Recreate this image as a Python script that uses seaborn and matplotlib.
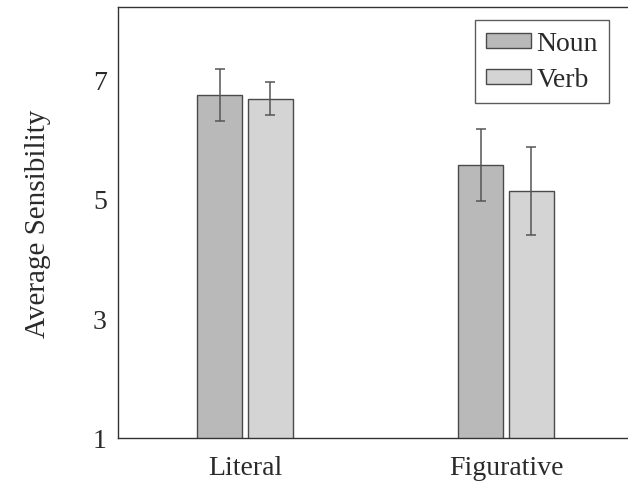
import matplotlib
matplotlib.use("Agg")
import matplotlib.pyplot as plt
import seaborn as sns
import pandas as pd
from matplotlib.patches import Patch

categories = ["Literal", "Figurative"]
series = ["Noun", "Verb"]
noun_vals = [6.74, 5.57]
verb_vals = [6.67, 5.13]
noun_err_low = [6.31, 4.97]
noun_err_high = [7.18, 6.17]
verb_err_low = [6.41, 4.40]
verb_err_high = [6.96, 5.87]
yticks = [1, 3, 5, 7]

sns.set_theme(style="white")
plt.rcParams["font.family"] = ["Liberation Serif", "DejaVu Serif"]

df = pd.DataFrame({
    "Condition": categories * 2,
    "POS": ["Noun"] * 2 + ["Verb"] * 2,
    "Value": noun_vals + verb_vals,
})

colors = {"Noun": "#b9b9b9", "Verb": "#d4d4d4"}
edge = "#4a4a4a"
txt = "#2a2a2a"
fs = 20

fig = plt.figure(figsize=(6.28, 4.89), dpi=100)
ax = fig.add_axes([118 / 628, 1 - 439 / 489, 515 / 628, 431 / 489])

sns.barplot(data=df, x="Condition", y="Value", hue="POS", order=categories,
            hue_order=series, palette=colors, width=0.39, gap=0.1,
            errorbar=None, edgecolor=edge, linewidth=1.0, ax=ax, legend=False)

lows = {"Noun": noun_err_low, "Verb": verb_err_low}
highs = {"Noun": noun_err_high, "Verb": verb_err_high}
vals = {"Noun": noun_vals, "Verb": verb_vals}
for cont, s in zip(ax.containers, series):
    for i, bar in enumerate(cont):
        xc = bar.get_x() + bar.get_width() / 2
        v = vals[s][i]
        ax.errorbar(xc, v, yerr=[[v - lows[s][i]], [highs[s][i] - v]],
                    fmt="none", ecolor="#555555", elinewidth=1.1, capsize=3.6,
                    capthick=1.1)

ax.set_xlim(-0.4866, 1.4866)
ax.set_ylim(1, 8.21)
ax.set_yticks(yticks)
ax.set_yticklabels([str(t) for t in yticks])
ax.set_xlabel("")
ax.set_ylabel("Average Sensibility", fontsize=21, color=txt, labelpad=30)
ax.tick_params(axis="both", labelsize=fs, colors="#bbbbbb", labelcolor=txt)
ax.tick_params(axis="y", direction="in", length=6, width=0.6, pad=8)
ax.tick_params(axis="x", direction="out", length=6, width=0.6, pad=6)
for sp in ax.spines.values():
    sp.set_color("#333333")
    sp.set_linewidth(1.0)

handles = [Patch(facecolor=colors[s], edgecolor=edge, linewidth=1.0, label=s) for s in series]
leg = fig.legend(handles=handles, loc="upper right",
                 bbox_to_anchor=(609 / 628, 1 - 21 / 489), fontsize=fs,
                 frameon=True, fancybox=False, edgecolor="#333333",
                 handlelength=1.6, handleheight=0.45, handletextpad=0.2,
                 borderpad=0.4, labelspacing=0.4, borderaxespad=0)
leg.get_frame().set_linewidth(1.0)
for t in leg.get_texts():
    t.set_color(txt)

fig.savefig("out.png", dpi=100)
